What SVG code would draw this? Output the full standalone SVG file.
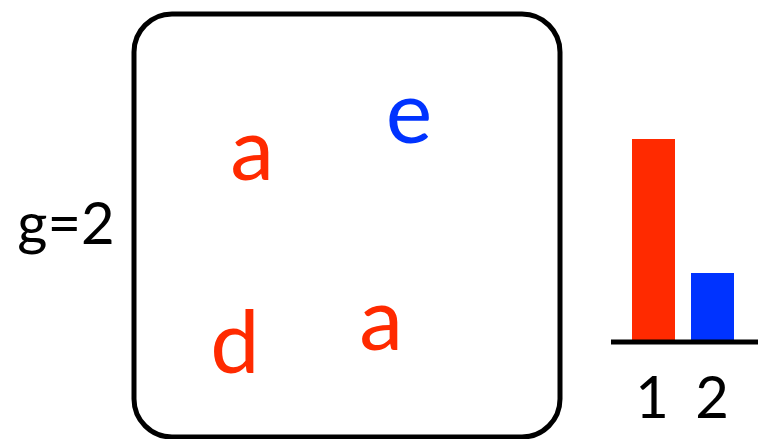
<svg xmlns="http://www.w3.org/2000/svg" width="758" height="439" viewBox="0 0 758 439">
<style>
.t{font-family:Lato,"Open Sans","Liberation Sans",sans-serif;text-anchor:middle}
.r{fill:#FF2A00}
.b{fill:#0033FF}
.k{fill:#000}
</style>
<rect width="758" height="439" fill="#fff"/>
<g id="label-g"><text class="t k" x="66" y="244" font-size="58">g=2</text></g>
<g id="box">
<rect x="134" y="14" width="426" height="423" rx="38" ry="38" fill="none" stroke="#000" stroke-width="5"/>
<text class="t r" x="252" y="180" font-size="88">a</text>
<text class="t b" x="409" y="143" font-size="88">e</text>
<text class="t r" x="235" y="373" font-size="88">d</text>
<text class="t r" x="381" y="350" font-size="88">a</text>
</g>
<g id="chart">
<rect class="r" x="632" y="139" width="43" height="202"/>
<rect class="b" x="691" y="273" width="43" height="68"/>
<line x1="611" y1="342" x2="758" y2="342" stroke="#000" stroke-width="5"/>
<text class="t k" x="652" y="418" font-size="58">1</text>
<text class="t k" x="712" y="418" font-size="58">2</text>
</g>
</svg>
